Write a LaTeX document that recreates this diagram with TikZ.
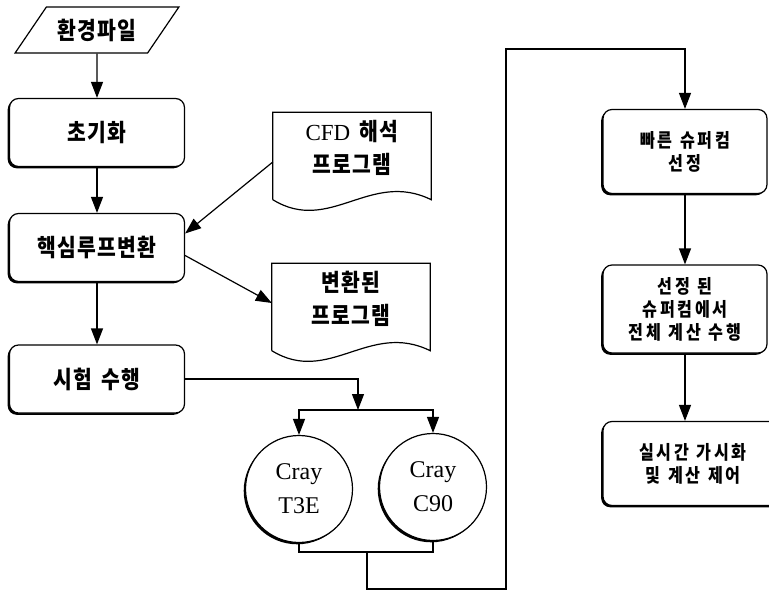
\documentclass[tikz,border=0pt]{standalone}
\usepackage{fontspec}
\setmainfont{Liberation Serif}
\newfontfamily\kr[FakeStretch=0.85,LetterSpace=5,WordSpace=1.6]{Noto Sans CJK KR}
\newfontfamily\krsmall[FakeStretch=0.85,LetterSpace=14,WordSpace=1.2]{Noto Sans CJK KR}
\usetikzlibrary{arrows.meta,shapes.geometric,shadows,calc}
\tikzset{
  flow/.style={draw, line width=1.2pt},
  arr/.style={flow, -{Triangle[length=16pt,width=12pt]}},
  boxshadow/.style={drop shadow={shadow xshift=-1.8pt, shadow yshift=-1.8pt, fill=black, opacity=1}},
  procbox/.style={flow, rounded corners=9pt, fill=white, align=center, boxshadow},
  leftbox/.style={procbox, minimum width=175pt, minimum height=68pt, font=\kr\bfseries\fontsize{24}{26}\selectfont},
  rightbox/.style={procbox, minimum width=164pt, minimum height=84pt, font=\krsmall\bfseries\fontsize{19}{23}\selectfont},
  datafile/.style={flow, trapezium, trapezium left angle=48, trapezium right angle=132,
    trapezium stretches=true, minimum width=164pt, minimum height=46pt, font=\kr\bfseries\fontsize{24}{26}\selectfont},
  docbox/.style={align=center, minimum width=158pt, minimum height=71pt, font=\kr\bfseries\fontsize{24}{33}\selectfont},
  machine/.style={flow, circle, fill=white, minimum size=107pt, align=center, boxshadow,
    font=\fontsize{24}{34}\selectfont},
}
\begin{document}
\begin{tikzpicture}[x=1pt,y=-1pt]
  \useasboundingbox (0,0) rectangle (769,591);
  % left column
  \path
    (97,30) node[datafile] (env){환경파일}
    (97,132.5) node[leftbox] (init){초기화}
    (97,247.5) node[leftbox] (core){핵심루프변환}
    (97,379) node[leftbox] (test){시험 수행};
  % programs
  \path
    (352,148) node[docbox] (cfd){{\fontsize{23}{33}\selectfont\rmfamily\mdseries CFD} 해석\\프로그램}
    (351,299) node[docbox] (conv){변환된\\프로그램};
  \foreach \d in {cfd,conv}
    \draw[flow] ($(\d.south west)+(0,16)$) -- (\d.north west) -- (\d.north east) -- ($(\d.south east)+(0,16)$)
      .. controls ($(\d.south east)+(-61,-14)$) and ($(\d.south west)+(57,51)$) .. ($(\d.south west)+(0,16)$);
  % machines
  \path
    (299,489) node[machine] (t3e){Cray\\T3E}
    (433,487) node[machine] (c90){Cray\\C90};
  % right column
  \path
    (685,151.5) node[rightbox] (fast){빠른 슈퍼컴\\선정}
    (685,309) node[rightbox, minimum height=88pt] (full){선정 된\\슈퍼컴에서\\전체 계산 수행}
    (693,463.5) node[rightbox, minimum width=180pt] (rt){실시간 가시화\\및 계산 제어};
  \coordinate (split) at (358,410);
  \coordinate (join) at (367,552);
  \coordinate (low) at (506,589);
  \coordinate (high) at (506,49);
  \begin{scope}[arr]
    \draw (env) -- (init);
    \draw (init) -- (core);
    \draw (core) -- (test);
    \draw ([yshift=-14pt]cfd.west) -- ([yshift=14pt]core.east);
    \draw ([yshift=-8pt]core.east) -- ([yshift=-4pt]conv.west);
    \draw (test.east) -| (split);
    \draw (split) -| (t3e);
    \draw (split) -| (c90);
    \draw (join) |- (low) -- (high) -| (fast);
    \draw (fast) -- (full);
    \draw (full) -- (full |- rt.north);
  \end{scope}
  \draw[flow] (t3e) |- (join);
  \draw[flow] (c90) |- (join);
\end{tikzpicture}
\end{document}
